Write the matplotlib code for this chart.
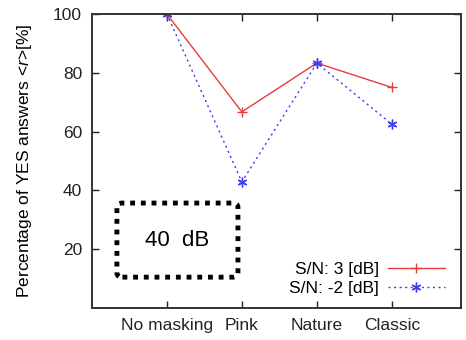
import matplotlib

matplotlib.use("Agg")
import matplotlib.pyplot as plt
from matplotlib.patches import FancyBboxPatch

plt.rcParams["font.family"] = ["Liberation Sans", "DejaVu Sans"]
plt.rcParams["mathtext.fontset"] = "custom"
plt.rcParams["mathtext.it"] = "Liberation Sans:italic"

categories = ["No masking", "Pink", "Nature", "Classic"]
sn_3db = [100, 66.7, 83.3, 75.0]
sn_m2db = [100, 42.9, 83.3, 62.5]
y_ticks = [20, 40, 60, 80, 100]

fig = plt.figure(figsize=(4.66, 3.40), dpi=100)
ax = fig.add_axes([0.197, 0.094, 0.792, 0.865])

x = list(range(len(categories)))
ax.plot(x, sn_3db, color="#e83c3c", lw=1.0, marker="+", ms=7, mew=1.0,
        label="S/N: 3 [dB]")
ax.plot(x, sn_m2db, color="#3c3cf0", lw=1.0, ls=(0, (1.5, 2.5)), marker=(6, 2, 0),
        ms=7, mew=1.0, label="S/N: -2 [dB]")

ax.set_xlim(-1, 3.92)
ax.set_ylim(0, 100)
ax.set_xticks(x)
ax.set_xticklabels(categories)
ax.set_yticks(y_ticks)
ax.tick_params(direction="in", length=5, width=1, labelsize=12.5, colors="#222222",
               top=True, right=True, pad=7)
for s in ax.spines.values():
    s.set_linewidth(1.4)
    s.set_color("#333333")

ax.set_ylabel("Percentage of YES answers <$r$>[%]", fontsize=12.5, labelpad=14)

leg = ax.legend(loc="lower right", frameon=False, markerfirst=False, fontsize=12.5,
                handlelength=3.3, handletextpad=0.5, labelspacing=0.2,
                borderaxespad=0.3, bbox_to_anchor=(0.99, 0.0))
for t in leg.get_texts():
    t.set_ha("right")

box = FancyBboxPatch((0.068, 0.105), 0.328, 0.252, transform=ax.transAxes,
                     boxstyle="round,pad=0,rounding_size=0.015", fill=False,
                     ec="black", lw=3.5, ls=(0, (1, 1.2)))
ax.add_patch(box)
ax.text(0.232, 0.231, "40  dB", transform=ax.transAxes, ha="center", va="center",
        fontsize=16)

fig.savefig("out.png", dpi=100)
